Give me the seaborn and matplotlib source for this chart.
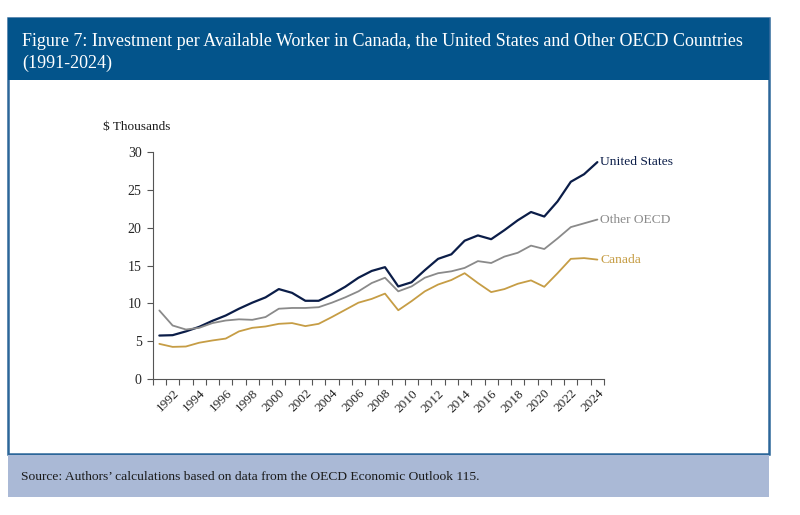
import matplotlib
matplotlib.use("Agg")
import matplotlib.pyplot as plt
import seaborn as sns
import pandas as pd
from matplotlib.patches import Rectangle

# Data ($ thousands per available worker)
years = list(range(1991, 2025))
united_states = [5.75, 5.8, 6.3, 6.9, 7.7, 8.4, 9.3, 10.1, 10.8, 11.9, 11.4, 10.35,
                 10.35, 11.2, 12.2, 13.4, 14.3, 14.8, 12.25, 12.8, 14.4, 15.9, 16.5,
                 18.3, 19.0, 18.5, 19.7, 21.0, 22.1, 21.5, 23.5, 26.1, 27.1, 28.7]
other_oecd = [9.07, 7.08, 6.55, 6.77, 7.4, 7.74, 7.9, 7.83, 8.2, 9.3, 9.4, 9.4,
              9.5, 10.1, 10.8, 11.6, 12.7, 13.4, 11.6, 12.25, 13.4, 14.0, 14.25,
              14.7, 15.6, 15.35, 16.2, 16.7, 17.65, 17.2, 18.6, 20.1, 20.6, 21.1]
canada = [4.65, 4.25, 4.3, 4.8, 5.1, 5.35, 6.3, 6.77, 6.95, 7.3, 7.4, 7.0,
          7.3, 8.2, 9.15, 10.1, 10.6, 11.3, 9.1, 10.3, 11.6, 12.5, 13.1,
          14.0, 12.7, 11.5, 11.9, 12.6, 13.05, 12.2, 14.0, 15.9, 16.0, 15.8]
series_names = ["United States", "Other OECD", "Canada"]
colors = {"United States": "#0b1d48", "Other OECD": "#8a8a8a", "Canada": "#c69d45"}

df = pd.DataFrame({
    "year": years * 3,
    "value": united_states + other_oecd + canada,
    "series": sum([[n] * len(years) for n in series_names], []),
})

sns.set_theme(style="white")
plt.rcParams["font.family"] = ["Liberation Serif", "DejaVu Serif"]

fig = plt.figure(figsize=(8, 5.15), dpi=100)

# frame, title band and source band (figure pixel coords converted to fractions)
W, H = 800, 515
def box(x0, y0, x1, y1, **kw):
    fig.patches.append(Rectangle((x0 / W, 1 - y1 / H), (x1 - x0) / W, (y1 - y0) / H,
                                 transform=fig.transFigure, figure=fig, zorder=-10, **kw))

box(8, 18, 769, 454, facecolor="white", edgecolor="#2c6699", linewidth=1.8)
box(8, 18, 769, 80, facecolor="#03548b", edgecolor="none")
box(8, 455, 769, 497, facecolor="#aab9d6", edgecolor="none")

fig.text(22 / W, 1 - 41 / H, "Figure 7: Investment per Available Worker in Canada, the United States and Other OECD Countries",
         color="white", fontsize=13.0, va="center", ha="left")
fig.text(22 / W, 1 - 63 / H, "(1991-2024)", color="white", fontsize=13.0, va="center", ha="left")
fig.text(21 / W, 1 - 477 / H, "Source: Authors\u2019 calculations based on data from the OECD Economic Outlook 115.",
         color="#1a1a1a", fontsize=9.7, va="center", ha="left")

ax = fig.add_axes([152.7 / W, 1 - 379 / H, (604 - 152.7) / W, (379 - 152.3) / H])
ax.set_facecolor("none")
sns.lineplot(data=df, x="year", y="value", hue="series", palette=colors,
             linewidth=1.3, legend=False, ax=ax)
for line, name in zip(ax.get_lines(), series_names):
    if name == "United States":
        line.set_linewidth(1.6)

ax.set_xlim(1990.5, 2024.5)
ax.set_ylim(0, 30)
ax.set_yticks(range(0, 31, 5))
ax.set_xticks([y + 0.5 for y in range(1990, 2025)], minor=True)
ax.set_xticks(years[1::2])
ax.set_xticklabels([str(y) for y in years[1::2]], rotation=45, ha="right",
                   rotation_mode="anchor", fontsize=9.5)
ax.tick_params(axis="x", which="major", length=0, pad=6)
ax.tick_params(axis="x", which="minor", length=4, width=0.8, color="#555555", direction="out", bottom=True)
ax.tick_params(axis="y", length=4, width=0.8, color="#555555", direction="out", left=True, labelsize=10, pad=4)
for s in ["top", "right"]:
    ax.spines[s].set_visible(False)
for s in ["left", "bottom"]:
    ax.spines[s].set_color("#555555")
    ax.spines[s].set_linewidth(0.8)
ax.set_xlabel("")
ax.set_ylabel("")
ax.text(-0.11, 1.11, "$ Thousands", transform=ax.transAxes, fontsize=9.5, ha="left", va="center", color="#1a1a1a")

# end labels
ends = {"United States": united_states[-1], "Other OECD": other_oecd[-1], "Canada": canada[-1]}
for name in series_names:
    ax.annotate(name, xy=(years[-1], ends[name]), xytext=(2, 0), textcoords="offset points",
                color=colors[name], fontsize=9.7, va="center", ha="left", annotation_clip=False)

fig.savefig("out.png", dpi=100)
